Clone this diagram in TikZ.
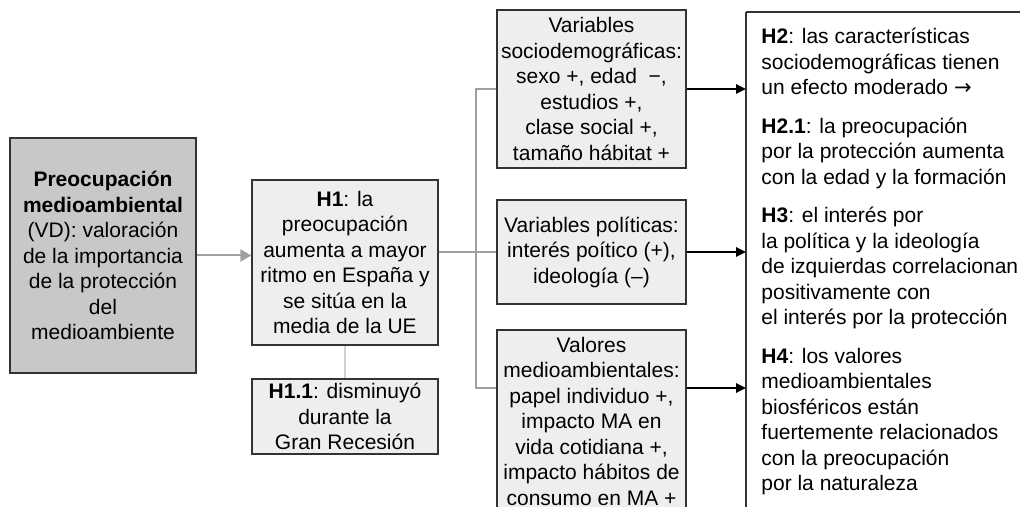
\documentclass[tikz,border=0pt]{standalone}
\usepackage{fontspec}
\setmainfont{Liberation Sans}
\newfontfamily\flecha{DejaVu Sans}
\usetikzlibrary{arrows.meta}
\definecolor{hopdam}{RGB}{200,200,200}
\definecolor{hopnhat}{RGB}{238,238,238}
\definecolor{vien}{RGB}{51,51,51}
\definecolor{noixam}{RGB}{160,160,160}
\definecolor{noinhat}{RGB}{208,208,208}
\tikzset{
	box/.style={draw=vien, line width=0.65pt, fill=hopnhat, align=center, inner sep=0pt, minimum width=93pt},
	link/.style={draw=noixam, line width=1pt},
	pale/.style={draw=noinhat, line width=1pt},
	arr/.style={draw=black, line width=1pt, -{Triangle[length=5pt,width=4.7pt]}},
	edge/.style={draw=vien, line width=0.65pt}
}
\begin{document}
\begin{tikzpicture}[x=0.5pt, y=-0.5pt, font=\fontsize{10.5}{12.75}\selectfont]
				\clip (0,0) rectangle (1020,507);
				
				% Hộp biến phụ thuộc
				\node[box, fill=hopdam, minimum height=117.5pt] (VD) at (103,255.5) {\textbf{Preocupación}\\ \textbf{medioambiental}\\ (VD): valoración\\ de la importancia\\ de la protección\\ del\\ medioambiente};
				
				% Giả thuyết H1 và H1.1
				\node[box, minimum height=82.5pt] (H1) at (345,262.5) {\textbf{H1}: la\\ preocupación\\ aumenta a mayor\\ ritmo en España y\\ se sitúa en la\\ media de la UE};
				\node[box, minimum height=37.5pt] (H11) at (345,416.5) {\textbf{H1.1}: disminuyó\\ durante la\\ Gran Recesión};
				
				% Các nhóm biến độc lập
				\node[box, minimum width=94.5pt, minimum height=79pt] (S) at (591.5,89) {Variables\\ sociodemográficas:\\ sexo +, edad~ −,\\ estudios +,\\ clase social +,\\ tamaño hábitat +};
				\node[box, minimum width=94.5pt, minimum height=52pt] (P) at (591.5,252) {Variables políticas:\\ interés poítico (+),\\ ideología (–)};
				\node[box, minimum width=94.5pt, minimum height=91pt] (M) at (591.5,421) {Valores\\ medioambientales:\\ papel individuo +,\\ impacto MA en\\ vida cotidiana +,\\ impacto hábitos de\\ consumo en MA +};
				
				% Các giả thuyết còn lại
				\node[anchor=north west, align=left, inner xsep=7.5pt, inner ysep=8pt] (H) at (746,12) {\textbf{H2}: las características\\ sociodemográficas tienen\\ un efecto moderado {\flecha →}\\[6.5pt] \textbf{H2.1}: la preocupación\\ por la protección aumenta\\ con la edad y la formación\\[6.5pt] \textbf{H3}: el interés por\\ la política y la ideología\\ de izquierdas correlacionan\\ positivamente con\\ el interés por la protección\\[6.5pt] \textbf{H4}: los valores\\ medioambientales\\ biosféricos están\\ fuertemente relacionados\\ con la preocupación\\ por la naturaleza};
				\draw[edge] (H.north west) -- ++(320,0) (H.north west) -- ++(0,520);
				
				% Đường nối
				\coordinate (J) at (476,388);
				\draw[link, -{Triangle[length=5.5pt,width=6pt]}] (VD.east) -- (VD.east -| H1.west);
				\draw[pale] (H1.south) -- (H11.north);
				\draw[link] (H1.east |- P.west) -- (P.west);
				\draw[link] (S.west) -| (J) -- (J -| M.west);
				
				% Mũi tên tới giả thuyết
				\draw[arr] (S.east) -- (S.east -| H.west);
				\draw[arr] (P.east) -- (P.east -| H.west);
				\draw[arr] (J -| M.east) -- (J -| H.west);
		\end{tikzpicture}
\end{document}
